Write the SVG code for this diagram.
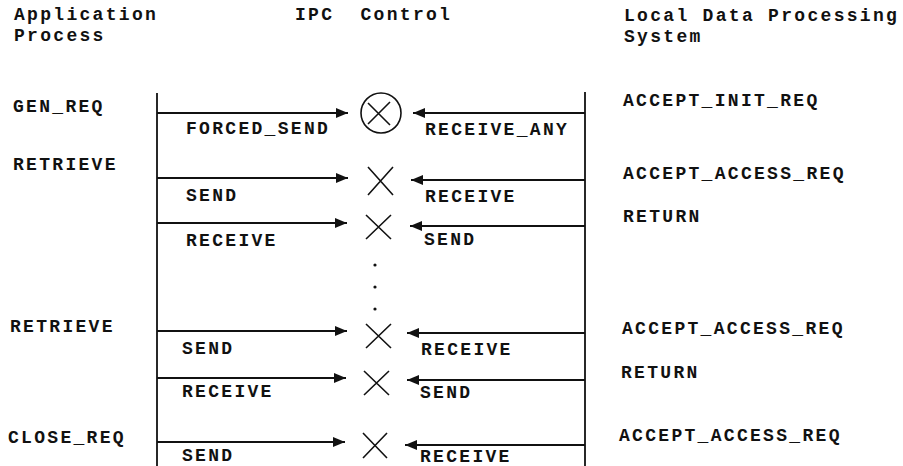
<svg xmlns="http://www.w3.org/2000/svg" width="903" height="466" viewBox="0 0 903 466">
<style>
text{font-family:"Liberation Mono","Courier New",monospace;font-size:18px;font-weight:bold;letter-spacing:2.3px;fill:#111}
.life{stroke:#111;stroke-width:1.8;fill:none}
.arr{stroke:#111;stroke-width:2;fill:none;marker-end:url(#ah)}
.x{stroke:#111;stroke-width:1.6;fill:none}
.dot{fill:#111}
</style>
<defs>
<marker id="ah" viewBox="0 0 12 10" refX="12" refY="5" markerWidth="12" markerHeight="10" markerUnits="userSpaceOnUse" orient="auto">
<path d="M0,0 L12,5 L0,10 z" fill="#111"/>
</marker>
</defs>
<rect width="903" height="466" fill="#fff"/>
<g id="headers">
<text x="14" y="20">Application</text>
<text x="14" y="41">Process</text>
<text x="295" y="20" xml:space="preserve">IPC  Control</text>
<text x="624" y="21">Local Data Processing</text>
<text x="624" y="42">System</text>
</g>
<g id="lifelines">
<line class="life" x1="157" y1="93" x2="157" y2="466"/>
<line class="life" x1="585" y1="92" x2="585" y2="466"/>
</g>
<g id="app-labels">
<text x="13" y="112">GEN_REQ</text>
<text x="13" y="170">RETRIEVE</text>
<text x="10" y="332">RETRIEVE</text>
<text x="8" y="443">CLOSE_REQ</text>
</g>
<g id="ldps-labels">
<text x="623" y="106">ACCEPT_INIT_REQ</text>
<text x="623" y="179">ACCEPT_ACCESS_REQ</text>
<text x="623" y="222">RETURN</text>
<text x="622" y="334">ACCEPT_ACCESS_REQ</text>
<text x="621" y="378">RETURN</text>
<text x="619" y="441">ACCEPT_ACCESS_REQ</text>
</g>
<g id="connectors">
<line class="arr" x1="157" y1="113" x2="348" y2="113"/>
<line class="arr" x1="585" y1="113" x2="413" y2="113"/>
<line class="arr" x1="157" y1="178" x2="348" y2="178"/>
<line class="arr" x1="585" y1="180" x2="411" y2="180"/>
<line class="arr" x1="157" y1="223" x2="347" y2="223"/>
<line class="arr" x1="585" y1="226" x2="410" y2="226"/>
<line class="arr" x1="157" y1="331" x2="347" y2="331"/>
<line class="arr" x1="585" y1="333" x2="407" y2="333"/>
<line class="arr" x1="157" y1="378" x2="346" y2="378"/>
<line class="arr" x1="585" y1="380" x2="407" y2="380"/>
<line class="arr" x1="157" y1="442" x2="345" y2="442"/>
<line class="arr" x1="585" y1="445" x2="405" y2="445"/>
</g>
<g id="connector-labels">
<text x="186" y="134">FORCED_SEND</text>
<text x="425" y="135">RECEIVE_ANY</text>
<text x="186" y="201">SEND</text>
<text x="425" y="202">RECEIVE</text>
<text x="186" y="246">RECEIVE</text>
<text x="424" y="245">SEND</text>
<text x="182" y="354">SEND</text>
<text x="421" y="355">RECEIVE</text>
<text x="182" y="397">RECEIVE</text>
<text x="420" y="398">SEND</text>
<text x="182" y="461">SEND</text>
<text x="420" y="462">RECEIVE</text>
</g>
<g id="ipc-forced">
<circle cx="381" cy="113" r="20" class="x"/>
<path class="x" d="M368,103 L390,125 M390,102 L368,124"/>
</g>
<g id="ipc-1"><path class="x" d="M368,167 L393,195 M393,167 L368,195"/></g>
<g id="ipc-2"><path class="x" d="M366,215 L391,239 M391,215 L366,239"/></g>
<g id="ipc-dots">
<circle class="dot" cx="375" cy="265" r="1.6"/>
<circle class="dot" cx="375" cy="287" r="1.6"/>
<circle class="dot" cx="375" cy="309" r="1.6"/>
</g>
<g id="ipc-3"><path class="x" d="M366,324 L391,348 M391,324 L366,348"/></g>
<g id="ipc-4"><path class="x" d="M364,371 L389,395 M389,371 L364,395"/></g>
<g id="ipc-5"><path class="x" d="M363,433 L387,458 M387,433 L363,458"/></g>
</svg>
